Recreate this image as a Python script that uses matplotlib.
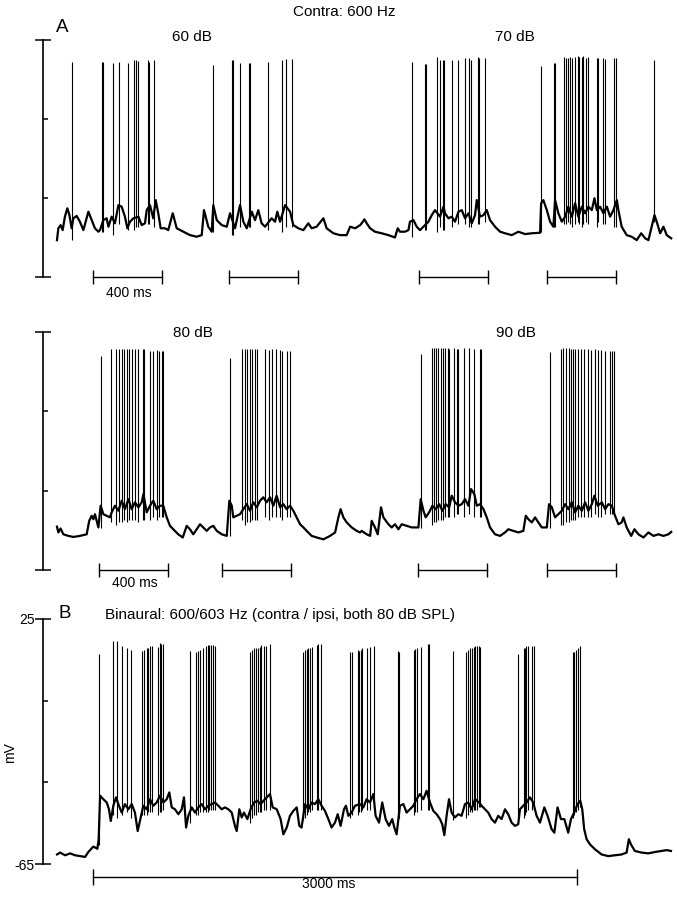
import matplotlib
matplotlib.use('Agg')
import matplotlib.pyplot as plt

plt.rcParams['font.family'] = ['Liberation Sans', 'DejaVu Sans']

# ---------------- data (time in ms, membrane potential in mV) ----------------
# Panel A, upper trace (60 dB and 70 dB sweeps)
a1_t = [0, 8, 21, 33, 46, 60, 72, 85, 95, 114,
        133, 153, 182, 201, 220, 240, 249, 269, 288, 298,
        317, 336, 356, 375, 394, 408, 423, 443, 472, 491,
        510, 520, 539, 558, 572, 587, 601, 626, 645, 671,
        694, 732, 771, 810, 839, 852, 877, 897, 906, 926,
        955, 984, 1003, 1032, 1061, 1080, 1100, 1129, 1148, 1167,
        1186, 1206, 1244, 1264, 1277, 1293, 1322, 1351, 1370, 1399,
        1428, 1457, 1476, 1505, 1544, 1563, 1602, 1641, 1679, 1699,
        1728, 1757, 1766, 1782, 1795, 1815, 1843, 1882, 1921, 1959,
        1975, 1988, 2017, 2037, 2046, 2066, 2085, 2104, 2124, 2153,
        2172, 2191, 2220, 2240, 2249, 2269, 2288, 2307, 2327, 2346,
        2365, 2385, 2404, 2423, 2433, 2452, 2472, 2491, 2510, 2539,
        2568, 2597, 2636, 2674, 2713, 2752, 2800, 2806, 2819, 2839,
        2858, 2877, 2887, 2906, 2926, 2945, 2964, 2984, 3003, 3022,
        3042, 3061, 3080, 3100, 3115, 3129, 3148, 3167, 3187, 3206,
        3225, 3245, 3254, 3273, 3302, 3331, 3360, 3386, 3409, 3428,
        3447, 3463, 3476, 3496, 3515, 3534, 3560]
a1_v = [-51.0, -46.5, -45.3, -47.2, -42.1, -38.9, -41.5, -46.5, -42.7, -41.8,
        -44.0, -47.2, -40.2, -43.4, -46.5, -47.8, -47.2, -43.4, -42.7, -45.9,
        -42.1, -44.6, -37.7, -38.3, -42.1, -46.5, -44.0, -42.7, -42.1, -45.3,
        -44.6, -39.6, -37.7, -42.7, -35.8, -40.8, -46.5, -46.5, -47.2, -40.8,
        -46.5, -47.8, -49.1, -49.7, -49.1, -39.6, -45.9, -47.8, -37.7, -43.4,
        -45.3, -45.9, -40.8, -46.5, -37.7, -44.0, -46.5, -40.2, -43.4, -39.6,
        -44.6, -45.9, -42.7, -44.0, -40.2, -44.0, -37.7, -40.2, -45.3, -46.5,
        -47.2, -44.6, -46.5, -45.9, -42.7, -46.5, -48.4, -49.1, -49.1, -45.9,
        -46.5, -45.3, -44.6, -43.1, -44.6, -46.5, -47.8, -48.4, -49.1, -50.0,
        -46.5, -47.8, -47.8, -47.2, -44.0, -43.4, -45.9, -47.2, -45.9, -44.0,
        -41.5, -39.6, -42.1, -38.3, -40.8, -42.7, -42.1, -44.0, -40.2, -39.6,
        -42.7, -40.8, -44.6, -41.5, -35.8, -42.1, -41.5, -39.6, -43.4, -45.9,
        -47.8, -48.4, -49.1, -47.8, -48.7, -48.4, -48.2, -37.0, -35.8, -39.6,
        -44.0, -45.9, -35.8, -40.8, -44.0, -42.1, -38.3, -42.1, -37.0, -42.1,
        -38.3, -40.8, -38.3, -39.6, -35.1, -39.6, -38.3, -40.8, -38.3, -42.1,
        -39.6, -35.8, -39.6, -45.9, -49.1, -49.7, -51.0, -48.4, -50.3, -51.0,
        -45.9, -41.5, -44.0, -48.4, -45.9, -49.1, -50.3]
a1_spike_t = [87, 261, 264, 325, 359, 412, 446, 458, 470, 528, 533, 562,
              904, 1014, 1020, 1061, 1113, 1119, 1223, 1304, 1327, 1362,
              2058, 2133, 2139, 2203, 2220, 2238, 2243, 2290, 2324, 2365, 2388, 2400, 2441, 2446, 2481,
              2806, 2881, 2887, 2939, 2951, 2962, 2974, 2986, 3003, 3020, 3026, 3043, 3049, 3067, 3078,
              3130, 3136, 3165, 3177, 3229, 3240, 3461]
a1_spike_peak = [16.6, 16.6, 16.6, 16.3, 16.6, 16.3, 17.4, 17.4, 17.0, 17.4, 16.6, 17.4,
                 15.6, 17.4, 17.4, 16.3, 16.3, 16.3, 16.6, 17.4, 17.8, 17.8,
                 16.6, 15.9, 15.9, 18.5, 17.4, 17.4, 17.4, 17.4, 17.4, 18.1, 18.1, 17.4, 18.5, 18.1, 18.1,
                 15.2, 16.3, 16.3, 18.5, 18.1, 18.1, 18.5, 18.1, 18.5, 18.9, 18.5, 18.5, 18.9, 18.1, 18.5,
                 18.1, 18.1, 18.1, 17.8, 18.1, 18.1, 17.4]
a1_spike_low = [-51, -48, -48, -49, -45, -47, -47, -46, -46, -45, -45, -46,
                -48, -49, -49, -46, -46, -46, -47, -48, -46, -46,
                -50, -47, -47, -48, -46, -47, -47, -46, -45, -45, -46, -46, -45, -45, -44,
                -48, -46, -46, -45, -45, -44, -45, -46, -45, -44, -45, -46, -45, -44, -45,
                -46, -44, -45, -45, -46, -46, -44]

# Panel A, lower trace (80 dB and 90 dB sweeps)
a2_t = [0, 8, 21, 37, 66, 95, 133, 172, 187, 201,
        211, 220, 240, 253, 269, 288, 307, 317, 336, 356,
        375, 394, 414, 433, 452, 472, 491, 501, 520, 539,
        558, 578, 597, 616, 636, 655, 674, 703, 729, 752,
        771, 790, 810, 829, 848, 868, 887, 906, 926, 955,
        984, 999, 1013, 1022, 1042, 1061, 1080, 1100, 1119, 1138,
        1158, 1177, 1196, 1215, 1235, 1254, 1273, 1293, 1312, 1331,
        1351, 1370, 1389, 1409, 1428, 1447, 1476, 1505, 1544, 1583,
        1612, 1631, 1644, 1660, 1679, 1708, 1737, 1757, 1766, 1795,
        1815, 1824, 1843, 1859, 1878, 1892, 1921, 1940, 1959, 1979,
        1998, 2027, 2056, 2095, 2108, 2124, 2137, 2157, 2176, 2195,
        2215, 2234, 2253, 2273, 2288, 2307, 2327, 2346, 2365, 2385,
        2400, 2419, 2433, 2452, 2472, 2491, 2510, 2539, 2568, 2597,
        2616, 2645, 2674, 2703, 2717, 2732, 2752, 2771, 2790, 2810,
        2839, 2852, 2868, 2887, 2906, 2926, 2945, 2964, 2984, 3003,
        3022, 3042, 3061, 3080, 3100, 3115, 3134, 3158, 3177, 3196,
        3216, 3231, 3254, 3273, 3283, 3302, 3328, 3347, 3370, 3399,
        3428, 3457, 3486, 3515, 3544, 3560]
a2_v = [-48.6, -50.8, -49.3, -51.5, -52.1, -52.5, -52.1, -51.5, -46.4, -44.5,
        -45.8, -43.9, -48.9, -40.7, -43.9, -44.5, -45.1, -43.2, -40.7, -42.6,
        -38.8, -42.0, -38.2, -42.0, -39.4, -41.3, -39.4, -36.3, -43.2, -40.7,
        -38.8, -42.0, -40.7, -40.7, -45.1, -48.3, -49.6, -51.5, -52.7, -48.3,
        -49.6, -51.5, -49.6, -47.7, -48.9, -50.2, -48.9, -48.3, -50.2, -51.5,
        -52.1, -38.8, -40.7, -45.1, -44.5, -43.9, -42.0, -40.1, -42.6, -39.4,
        -41.3, -38.8, -37.5, -39.4, -37.5, -40.7, -36.9, -41.3, -40.1, -42.0,
        -40.7, -42.6, -45.1, -47.7, -48.9, -50.2, -52.1, -52.7, -53.4, -52.1,
        -50.8, -45.1, -42.0, -45.1, -47.0, -48.9, -50.2, -50.8, -50.2, -51.5,
        -52.1, -46.4, -48.9, -51.5, -41.3, -45.1, -47.7, -48.9, -47.7, -49.6,
        -47.7, -48.3, -48.9, -48.9, -38.2, -42.6, -45.1, -43.2, -40.7, -42.0,
        -40.1, -42.6, -40.1, -41.3, -36.9, -39.4, -40.7, -40.1, -38.2, -40.7,
        -34.4, -36.3, -40.7, -40.1, -42.0, -45.1, -48.9, -51.5, -52.1, -50.8,
        -49.6, -50.2, -50.8, -50.2, -44.5, -45.8, -47.0, -45.1, -47.0, -48.9,
        -48.9, -40.1, -41.3, -45.1, -43.9, -42.6, -40.1, -42.0, -39.4, -43.2,
        -40.7, -42.6, -39.4, -42.6, -40.1, -36.9, -40.7, -39.4, -42.0, -40.1,
        -40.7, -43.9, -47.7, -47.0, -45.1, -48.9, -52.1, -49.6, -51.5, -52.7,
        -50.8, -52.1, -51.5, -52.1, -51.5, -50.6]
a2_spike_t = [255, 313, 342, 362, 377, 388, 406, 417, 435, 455, 472, 499, 504, 542, 557, 580, 594, 609, 617,
              1000, 1070, 1087, 1101, 1116, 1130, 1148, 1159, 1203, 1226, 1249, 1267, 1293, 1304, 1336, 1351,
              2107, 2171, 2183, 2197, 2209, 2223, 2238, 2249, 2264, 2275, 2301, 2316, 2327, 2357, 2386, 2419,
              2454, 2460,
              2855, 2919, 2933, 2948, 2965, 2980, 2991, 3003, 3020, 3038, 3055, 3078, 3096, 3119, 3136, 3154,
              3174, 3203, 3217, 3229]
a2_spike_peak = [16.0, 18.4, 18.4, 18.6, 18.4, 18.6, 18.4, 18.4, 18.6, 18.4, 18.4, 18.4, 18.4, 18.0, 18.0,
                 18.2, 17.8, 17.8, 17.8,
                 15.1, 18.4, 18.4, 18.6, 18.6, 18.4, 18.4, 18.4, 18.4, 18.2, 18.4, 18.4, 18.2, 18.0, 17.8, 17.8,
                 16.6, 19.0, 19.0, 18.8, 18.8, 18.8, 18.8, 19.0, 18.8, 18.6, 18.8, 18.6, 18.6, 18.8, 18.8, 18.6,
                 18.4, 18.4,
                 17.4, 18.6, 18.8, 18.8, 18.8, 18.6, 18.6, 18.4, 18.6, 18.4, 18.4, 18.4, 18.2, 18.4, 18.2, 18.2,
                 18.0, 17.8, 18.0, 18.0]
a2_spike_low = [-49, -47, -48, -47, -47, -46, -47, -46, -46, -46, -47, -46, -46, -46, -45, -46, -45, -45, -45,
                -52, -46, -48, -47, -47, -46, -46, -46, -45, -46, -45, -45, -45, -46, -45, -45,
                -49, -48, -47, -47, -46, -46, -46, -45, -45, -45, -45, -44, -44, -45, -44, -45, -45, -45,
                -49, -48, -48, -47, -47, -46, -46, -46, -45, -45, -45, -45, -45, -44, -45, -45, -44, -44,
                -44, -44]

# Panel B, binaural beat trace
b_t = [0, 19, 50, 81, 112, 143, 174, 194, 225, 250,
       258, 267, 287, 308, 322, 333, 349, 366, 380, 401,
       421, 442, 463, 483, 500, 514, 535, 556, 576, 597,
       618, 638, 659, 680, 696, 711, 731, 752, 773, 787,
       800, 814, 835, 855, 876, 897, 917, 938, 959, 979,
       1000, 1021, 1041, 1062, 1083, 1103, 1114, 1130, 1145, 1159,
       1180, 1200, 1221, 1242, 1262, 1289, 1320, 1337, 1362, 1386,
       1403, 1424, 1444, 1465, 1486, 1502, 1516, 1537, 1558, 1578,
       1599, 1620, 1640, 1661, 1682, 1702, 1723, 1740, 1758, 1779,
       1791, 1806, 1826, 1847, 1878, 1899, 1919, 1940, 1961, 1975,
       1996, 2016, 2037, 2058, 2078, 2091, 2105, 2126, 2147, 2167,
       2188, 2209, 2229, 2250, 2271, 2291, 2312, 2333, 2353, 2374,
       2388, 2401, 2415, 2430, 2446, 2467, 2488, 2508, 2529, 2549,
       2570, 2591, 2616, 2632, 2653, 2673, 2694, 2715, 2735, 2756,
       2777, 2797, 2818, 2839, 2859, 2870, 2890, 2911, 2932, 2952,
       2973, 2994, 3021, 3041, 3066, 3083, 3103, 3124, 3145, 3169,
       3186, 3206, 3227, 3244, 3256, 3268, 3283, 3304, 3335, 3376,
       3417, 3459, 3500, 3531, 3545, 3558, 3582, 3624, 3665, 3706,
       3748, 3779, 3806]
b_v = [-61.5, -60.8, -61.8, -61.1, -61.8, -62.1, -62.4, -60.6, -58.6, -59.4,
       -55.9, -39.9, -41.2, -42.4, -44.9, -49.2, -43.6, -40.5, -43.0, -46.1,
       -43.0, -44.9, -43.0, -46.1, -52.9, -49.2, -43.6, -44.9, -41.2, -43.6,
       -42.4, -39.9, -42.4, -41.2, -38.7, -44.2, -44.9, -46.7, -44.9, -40.5,
       -51.6, -47.3, -44.2, -46.1, -44.2, -43.0, -44.9, -43.6, -43.0, -42.4,
       -43.6, -44.9, -44.2, -44.9, -46.1, -51.0, -52.9, -44.9, -47.9, -46.1,
       -48.5, -44.9, -42.4, -41.8, -43.0, -41.2, -39.3, -44.2, -44.9, -48.5,
       -54.1, -51.6, -47.3, -45.5, -44.2, -51.0, -51.6, -43.0, -44.9, -42.4,
       -43.0, -41.2, -43.6, -45.5, -48.5, -51.6, -49.8, -46.7, -51.0, -44.9,
       -43.6, -47.3, -46.1, -43.6, -43.0, -44.2, -41.2, -42.4, -39.3, -47.3,
       -49.8, -42.4, -48.5, -51.0, -48.5, -51.6, -54.1, -43.6, -43.0, -46.1,
       -44.9, -43.6, -41.2, -39.3, -41.2, -38.1, -42.4, -45.5, -46.7, -48.5,
       -50.4, -54.4, -47.3, -41.2, -46.1, -47.9, -46.7, -47.3, -43.0, -42.4,
       -44.9, -41.2, -42.4, -43.6, -44.9, -46.1, -48.5, -49.8, -47.3, -48.5,
       -44.9, -46.7, -49.8, -51.0, -50.4, -44.9, -43.6, -42.4, -40.5, -42.4,
       -47.3, -49.8, -44.2, -47.3, -52.2, -53.5, -44.2, -48.5, -48.5, -53.5,
       -48.5, -46.1, -43.0, -41.8, -44.9, -52.2, -55.9, -57.8, -59.6, -61.5,
       -62.1, -61.8, -61.5, -60.8, -55.9, -57.8, -60.2, -60.8, -61.1, -60.6,
       -60.2, -59.9, -60.2]
b_spike_t = [260,
             347, 372, 403, 431, 459, 527, 542, 558, 567, 576, 589, 628, 637, 646, 657,
             822, 863, 877, 889, 905, 925, 933, 943, 954, 966, 981,
             1196, 1209, 1219, 1232, 1245, 1256, 1266, 1281, 1298, 1322,
             1527, 1537, 1548, 1558, 1568, 1579, 1610, 1620, 1636,
             1818, 1828, 1864, 1874, 1884, 1890, 1921, 1942, 1963,
             2114, 2123, 2211, 2221, 2231, 2256, 2298, 2308,
             2454, 2537, 2547, 2560, 2572, 2583, 2593, 2603, 2614, 2623,
             2857, 2893, 2901, 2910, 2919, 2944, 2955,
             3198, 3207, 3217, 3229, 3242]
b_spike_peak = [12.3,
                17.0, 17.0, 15.0, 14.5, 13.6, 13.3, 13.6, 14.2, 14.5, 15.0, 15.0, 14.8, 16.3, 16.0, 15.8,
                13.3, 12.9, 13.2, 13.6, 14.2, 15.0, 15.4, 15.4, 15.4, 15.4, 15.0,
                12.9, 13.6, 14.2, 14.5, 14.2, 14.8, 15.4, 15.0, 15.0, 16.0,
                12.9, 13.6, 13.8, 14.2, 14.5, 14.8, 15.4, 15.8, 15.8,
                12.9, 12.9, 13.6, 13.3, 13.6, 14.2, 14.5, 14.8, 15.0,
                13.3, 12.9, 13.6, 13.8, 14.2, 14.8, 16.0, 16.0,
                13.2, 12.9, 13.6, 14.2, 14.5, 14.8, 15.0, 15.0, 15.0, 14.8,
                12.3, 14.2, 14.5, 15.0, 15.0, 15.0, 15.0,
                12.9, 12.9, 13.6, 14.2, 15.0]
b_spike_low = [-58,
               -47, -48, -47, -46, -48, -47, -47, -47, -46, -46, -46, -47, -46, -46, -45,
               -50, -47, -47, -46, -46, -46, -46, -45, -45, -45, -45,
               -50, -48, -47, -47, -46, -46, -46, -45, -45, -45,
               -49, -48, -47, -46, -46, -45, -45, -45, -45,
               -48, -47, -47, -46, -46, -45, -45, -45, -44,
               -49, -48, -47, -46, -46, -45, -45, -45,
               -49, -48, -47, -46, -46, -45, -45, -45, -44, -44,
               -48, -48, -47, -46, -45, -45, -45,
               -48, -47, -46, -45, -44]

# stimulus / scale bars (start ms, duration ms)
a1_bar_start = [209, 997, 2099, 2841]
a2_bar_start = [243, 957, 2093, 2841]
a_bar_dur = 400
b_bar_start = 223
b_bar_dur = 3000

y_end_ticks = [-65, 25]
y_mid_ticks = [-35, -5]

# ---------------- figure ----------------
W, H = 677, 900
fig = plt.figure(figsize=(W / 100, H / 100), dpi=100)


def px_axes(left, top, right, bottom):
    return fig.add_axes([left / W, 1 - bottom / H, (right - left) / W, (bottom - top) / H])


def style(ax, xlim, labels=False):
    ax.set_xlim(*xlim)
    ax.set_ylim(-65, 25)
    ax.patch.set_visible(False)
    for s in ('top', 'right', 'bottom'):
        ax.spines[s].set_visible(False)
    ax.spines['left'].set_linewidth(1.2)
    ax.set_xticks([])
    ax.set_yticks(y_mid_ticks)
    ax.tick_params(axis='y', which='major', direction='in', length=3.5, width=1.1,
                   labelleft=False)
    if labels:
        ax.set_yticks(y_end_ticks, labels=[str(v) for v in y_end_ticks], minor=True)
    else:
        ax.set_yticks(y_end_ticks, minor=True)
    ax.tick_params(axis='y', which='minor', direction='inout', length=12, width=1.1,
                   labelleft=labels, labelsize=10, pad=0)


def trace(ax, t, v, st, sp, sl):
    ax.plot(t, v, color='black', lw=1.6, solid_joinstyle='round')
    ax.vlines(st, sl, sp, color='black', lw=0.8)


def bars(ax, starts, dur, y, half):
    for s in starts:
        ax.plot([s, s + dur], [y, y], color='black', lw=1.0, clip_on=False)
        ax.vlines([s, s + dur], y - half, y + half, color='black', lw=1.0, clip_on=False)


a_xlim = (-81, 3582)
b_xlim = (-87, 3831)

ax1 = px_axes(43, 40, 675, 277)
style(ax1, a_xlim)
trace(ax1, a1_t, a1_v, a1_spike_t, a1_spike_peak, a1_spike_low)
bars(ax1, a1_bar_start, a_bar_dur, -65, 2.6)

ax2 = px_axes(43, 332, 675, 570)
style(ax2, a_xlim)
trace(ax2, a2_t, a2_v, a2_spike_t, a2_spike_peak, a2_spike_low)
bars(ax2, a2_bar_start, a_bar_dur, -65, 2.6)

ax3 = px_axes(43, 619, 675, 864)
style(ax3, b_xlim, labels=True)
trace(ax3, b_t, b_v, b_spike_t, b_spike_peak, b_spike_low)
bars(ax3, [b_bar_start], b_bar_dur, -69.8, 3.0)


def ftext(x, y, s, **kw):
    fig.text(x / W, 1 - y / H, s, **kw)


ftext(344, 12, 'Contra: 600 Hz', ha='center', va='center', fontsize=11)
ftext(62, 28, 'A', ha='center', va='center', fontsize=13.5)
ftext(192, 37, '60 dB', ha='center', va='center', fontsize=11)
ftext(515, 37, '70 dB', ha='center', va='center', fontsize=11)
ftext(129, 293, '400 ms', ha='center', va='center', fontsize=10)
ftext(193, 333, '80 dB', ha='center', va='center', fontsize=11)
ftext(516, 333, '90 dB', ha='center', va='center', fontsize=11)
ftext(135, 583, '400 ms', ha='center', va='center', fontsize=10)
ftext(65, 614, 'B', ha='center', va='center', fontsize=13.5)
ftext(105, 615, 'Binaural: 600/603 Hz (contra / ipsi, both 80 dB SPL)', ha='left', va='center',
      fontsize=11)
ftext(10, 753, 'mV', ha='center', va='center', rotation=90, fontsize=10)
ftext(329, 884, '3000 ms', ha='center', va='center', fontsize=10)

fig.savefig('out.png', dpi=100)
